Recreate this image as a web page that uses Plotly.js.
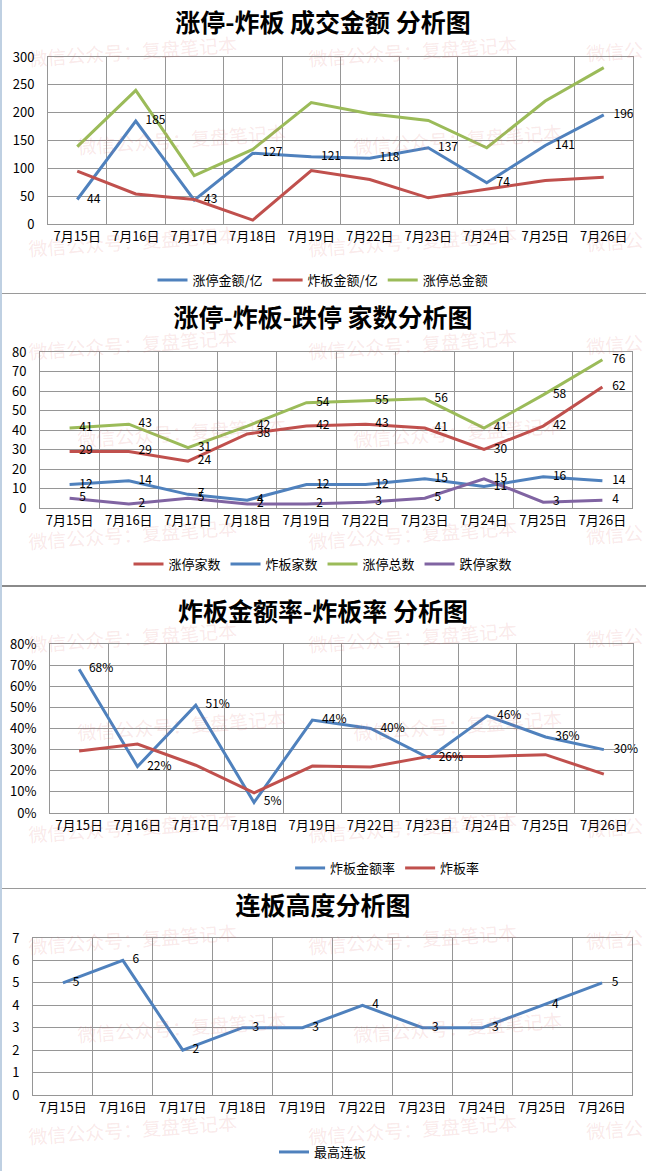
<!DOCTYPE html>
<html>
<head>
<meta charset="utf-8">
<script src="https://cdn.plot.ly/plotly-3.0.1.min.js"></script>
<style>
  body { margin: 0; background: #fff; width: 646px; height: 1171px; overflow: hidden; position: relative; }
  .chart { position: absolute; left: 0; width: 646px; }
  .rule { position: absolute; left: 0; width: 646px; background: #9a9a9a; }
  #edge { position: absolute; left: 0; top: 0; width: 2px; height: 1171px; background: #bfd0e2; }
</style>
</head>
<body>
<div id="plot-amount" class="chart" style="top:0;height:293px"></div>
<div id="plot-count" class="chart" style="top:293px;height:293px"></div>
<div id="plot-rate" class="chart" style="top:586px;height:302px"></div>
<div id="plot-height" class="chart" style="top:884px;height:287px"></div>
<div class="rule" style="top:293px;height:1px"></div>
<div class="rule" style="top:585px;height:2px;background:#8a8a8a"></div>
<div class="rule" style="top:888px;height:1px"></div>
<div id="edge"></div>
<script>
// === Data ===
const dates = ['7月15日', '7月16日', '7月17日', '7月18日', '7月19日', '7月22日', '7月23日', '7月24日', '7月25日', '7月26日'];

// 1. 成交金额 (亿)
const ztAmount = [44, 185, 43, 127, 121, 118, 137, 74, 141, 196];
const zbAmount = [95, 54, 44, 7, 96, 80, 47, 63, 78, 84];
const ztTotalAmount = [139, 240, 87, 134, 218, 198, 186, 137, 221, 281];

// 2. 家数
const ztCount = [29, 29, 24, 38, 42, 43, 41, 30, 42, 62];
const zbCount = [12, 14, 7, 4, 12, 12, 15, 11, 16, 14];
const ztTotal = [41, 43, 31, 42, 54, 55, 56, 41, 58, 76];
const dtCount = [5, 2, 5, 2, 2, 3, 5, 15, 3, 4];

// 3. 比率
const zbAmountRate = [0.68, 0.22, 0.51, 0.05, 0.44, 0.40, 0.26, 0.46, 0.36, 0.30];
const zbRate = [0.293, 0.326, 0.226, 0.095, 0.222, 0.218, 0.268, 0.268, 0.276, 0.184];

// 4. 连板高度
const maxBoard = [5, 6, 2, 3, 3, 4, 3, 3, 4, 5];

const BLUE = '#4f81bd', RED = '#c0504d', GREEN = '#9bbb59', PURPLE = '#8064a2';
const FONT = '"Noto Sans CJK SC", "Noto Sans", sans-serif';
const GRID = '#969696';
const W = 646;
const WATERMARK = '微信公众号：复盘笔记本';

// line trace (in legend) + label trace (text only, no legend)
function lineTrace(name, y, color) {
    return { x: dates, y: y, name: name, type: 'scatter', mode: 'lines',
             line: { color: color, width: 3 }, hoverinfo: 'skip' };
}
function labelTrace(y, fmt) {
    // invisible marker pushes the label a little to the right of the point
    return { x: dates, y: y, type: 'scatter', mode: 'markers+text', showlegend: false,
             marker: { size: 14, color: 'rgba(0,0,0,0)' },
             texttemplate: fmt || '%{y}', textposition: 'middle right',
             textfont: { family: FONT, size: 12, color: '#000' },
             cliponaxis: false, hoverinfo: 'skip' };
}

function watermarks(o) {
    const pw = W - o.l - o.r, ph = o.h - o.t - o.b;
    const rows = [[50, [25, 305]], [138, [74, 350]], [240, [25, 305]]];
    const out = [];
    const add = (px, py, text) => out.push({
        text: text, xref: 'paper', yref: 'paper',
        x: (px - o.l) / pw, y: 1 - (py + o.shift - o.t) / ph,
        xanchor: 'left', yanchor: 'middle', showarrow: false, textangle: -4,
        font: { family: FONT, size: 19, color: 'rgba(215,95,95,0.15)' }
    });
    rows.forEach(([py, xs]) => xs.forEach(px => add(px, py, WATERMARK)));
    // partial copies at the right edge
    add(583, 50, '微信公');
    add(583, 240, '微信公');
    return out;
}

function makeLayout(o) {
    o.shift = o.shift || 0;
    return {
        width: W, height: o.h,
        margin: { l: o.l, r: o.r, t: o.t, b: o.b, pad: 0 },
        paper_bgcolor: 'rgba(0,0,0,0)', plot_bgcolor: 'rgba(0,0,0,0)',
        font: { family: FONT, color: '#000' },
        title: {
            text: o.title, x: 0.5, xref: 'container', xanchor: 'center',
            y: 1 - o.titleY / o.h, yref: 'container', yanchor: 'middle',
            font: { family: FONT, size: 25, color: '#000', weight: 'bold' }
        },
        xaxis: {
            type: 'category', range: [-0.5, 9.5], tickson: 'boundaries',
            showgrid: true, gridcolor: GRID, gridwidth: 1,
            showline: true, linecolor: GRID, linewidth: 1, mirror: true,
            ticks: 'outside', ticklen: 11, tickcolor: 'rgba(0,0,0,0)',
            tickfont: { family: FONT, size: 13, color: '#000' }, fixedrange: true
        },
        yaxis: {
            range: o.yrange, dtick: o.dtick, tickformat: o.tickformat || '',
            showgrid: true, gridcolor: GRID, gridwidth: 1, zeroline: false,
            showline: true, linecolor: GRID, linewidth: 1, mirror: true,
            ticks: 'outside', ticklen: 10, tickcolor: 'rgba(0,0,0,0)',
            tickfont: { family: FONT, size: 13, color: '#000' }, fixedrange: true
        },
        showlegend: true,
        legend: {
            orientation: 'h', x: o.legendX || 0.5, xref: 'container', xanchor: 'center',
            y: 1 - o.legendY / o.h, yref: 'container', yanchor: 'middle',
            font: { family: FONT, size: 13, color: '#000' }, bgcolor: 'rgba(0,0,0,0)'
        },
        annotations: watermarks(o)
    };
}

const config = { staticPlot: true, displayModeBar: false };

// 1. 成交金额
Plotly.newPlot('plot-amount', [
    lineTrace('涨停金额/亿', ztAmount, BLUE),
    lineTrace('炸板金额/亿', zbAmount, RED),
    lineTrace('涨停总金额', ztTotalAmount, GREEN),
    labelTrace(ztAmount)
], makeLayout({ h: 293, l: 48, r: 13, t: 57, b: 69, title: '涨停-炸板 成交金额 分析图',
                titleY: 23, legendY: 280, yrange: [0, 300], dtick: 50 }), config);

// 2. 家数
Plotly.newPlot('plot-count', [
    lineTrace('涨停家数', ztCount, RED),
    lineTrace('炸板家数', zbCount, BLUE),
    lineTrace('涨停总数', ztTotal, GREEN),
    lineTrace('跌停家数', dtCount, PURPLE),
    labelTrace(ztCount), labelTrace(zbCount), labelTrace(ztTotal), labelTrace(dtCount)
], makeLayout({ h: 293, l: 40, r: 14, t: 59, b: 78, title: '涨停-炸板-跌停 家数分析图',
                titleY: 25, legendY: 271, yrange: [0, 80], dtick: 10 }), config);

// 3. 比率
Plotly.newPlot('plot-rate', [
    lineTrace('炸板金额率', zbAmountRate, BLUE),
    lineTrace('炸板率', zbRate, RED),
    labelTrace(zbAmountRate, '%{y:.0%}')
], makeLayout({ h: 302, l: 50, r: 13, t: 58, b: 75, title: '炸板金额率-炸板率 分析图',
                titleY: 26, legendY: 282, legendX: 0.6, yrange: [0, 0.8], dtick: 0.1, tickformat: '.0%' }), config);

// 4. 连板高度 (div starts 4px above the divider line)
Plotly.newPlot('plot-height', [
    lineTrace('最高连板', maxBoard, BLUE),
    labelTrace(maxBoard)
], makeLayout({ h: 287, l: 33, r: 14, t: 54, b: 76, title: '连板高度分析图', shift: 4,
                titleY: 22, legendY: 268, yrange: [0, 7], dtick: 1 }), config);
</script>
</body>
</html>
